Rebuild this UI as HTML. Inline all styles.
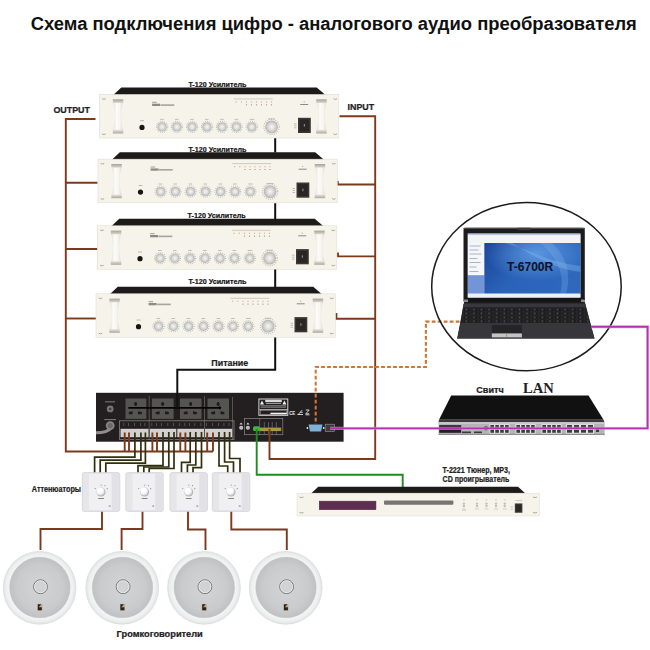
<!DOCTYPE html>
<html><head><meta charset="utf-8">
<style>
html,body{margin:0;padding:0;background:#fff;}
svg{display:block;font-family:"Liberation Sans",sans-serif;}
</style></head>
<body>
<svg width="650" height="650" viewBox="0 0 650 650">
<defs>
  <linearGradient id="hdl" x1="0" x2="1" y1="0" y2="0">
    <stop offset="0" stop-color="#e2e0d8"/><stop offset="0.35" stop-color="#fcfbf8"/><stop offset="0.7" stop-color="#f6f5f0"/><stop offset="1" stop-color="#dcdad2"/>
  </linearGradient>
  <linearGradient id="cap" x1="0" x2="0" y1="0" y2="1">
    <stop offset="0" stop-color="#a3a19a"/><stop offset="1" stop-color="#d9d7d0"/>
  </linearGradient>
  <linearGradient id="cap2" x1="0" x2="0" y1="0" y2="1">
    <stop offset="0" stop-color="#e6e4de"/><stop offset="1" stop-color="#a9a7a0"/>
  </linearGradient>
  <radialGradient id="knob" cx="0.5" cy="0.5" r="0.5">
    <stop offset="0" stop-color="#f6f6f4"/><stop offset="0.5" stop-color="#dcdcda"/><stop offset="0.85" stop-color="#c0c0be"/><stop offset="1" stop-color="#b2b2b0"/>
  </radialGradient>
  <radialGradient id="grille" cx="0.5" cy="0.5" r="0.5">
    <stop offset="0" stop-color="#d2d4d5"/><stop offset="0.75" stop-color="#c9cbcc"/><stop offset="1" stop-color="#bfc1c2"/>
  </radialGradient>
  <radialGradient id="spk" cx="0.5" cy="0.5" r="0.5">
    <stop offset="0.8" stop-color="#f6f7f7"/><stop offset="0.92" stop-color="#eeefef"/><stop offset="1" stop-color="#e2e3e3"/>
  </radialGradient>
  <linearGradient id="scr" x1="0" x2="1" y1="0" y2="0.5">
    <stop offset="0" stop-color="#1b4396"/><stop offset="0.5" stop-color="#2a62b8"/><stop offset="1" stop-color="#2d68bd"/>
  </linearGradient>

  <!-- Amplifier T-120, origin = panel top-left -->
  <g id="hnd">
    <path d="M0.3,3.2 C2.6,11 2.6,23 0.3,30.8 H10.2 C7.9,23 7.9,11 10.2,3.2 Z" fill="url(#hdl)"/>
    <rect x="0" y="0" width="10.5" height="3.6" fill="url(#cap)"/>
    <rect x="0" y="30.6" width="10.5" height="3.6" fill="url(#cap2)"/>
  </g>
  <g id="knb">
    <circle r="5.6" fill="none" stroke="#b4b1a8" stroke-width="1.1" stroke-dasharray="0.7,1.3"/>
    <circle r="4.7" fill="url(#knob)"/>
  </g>
  <g id="amp">
    <polygon points="13.8,0.5 21.8,-7 217.2,-7 226,0.5" fill="#1d1a1a"/>
    <rect x="0" y="0" width="239.3" height="43.5" fill="#f6f4ea" stroke="#e2ded0" stroke-width="0.6"/>
    <!-- rack ear marks -->
    <path d="M2.6,4.2 q1.8,1.4 3.6,0 M2.6,39.4 q1.8,1.4 3.6,0 M234,4.2 q1.8,1.4 3.6,0 M234,39.4 q1.8,1.4 3.6,0" stroke="#8a877f" stroke-width="0.7" fill="none"/>
    <use href="#hnd" x="13.3" y="4.8"/>
    <use href="#hnd" x="216.7" y="4.8"/>
    <!-- logo -->
    <rect x="52.6" y="7.3" width="4.5" height="1.1" fill="#a8a49a"/>
    <rect x="52.6" y="9.2" width="8" height="2.3" fill="#8f8b82"/>
    <rect x="61" y="9.8" width="13.8" height="1.6" fill="#a8a49a"/>
    <!-- LED labels and LEDs -->
    <rect x="134.3" y="4" width="39" height="0.9" fill="#c9c5ba"/>
    <g fill="#e9b08a">
      <circle cx="136.6" cy="7.5" r="0.7"/><circle cx="141.8" cy="7.5" r="0.7"/><circle cx="147" cy="7.5" r="0.7"/><circle cx="152" cy="7.5" r="0.7"/><circle cx="157" cy="7.5" r="0.7"/><circle cx="162" cy="7.5" r="0.7"/><circle cx="167" cy="7.5" r="0.7"/><circle cx="172" cy="7.5" r="0.7"/>
    </g>
    <g fill="#8a867c">
      <circle cx="147" cy="10.3" r="0.6"/><circle cx="152" cy="10.3" r="0.6"/><circle cx="157" cy="10.3" r="0.6"/><circle cx="162" cy="10.3" r="0.6"/><circle cx="167" cy="10.3" r="0.6"/><circle cx="172" cy="10.3" r="0.6"/>
    </g>
    <rect x="200.7" y="9.5" width="8" height="1" fill="#8d897f"/>
    <circle cx="204.7" cy="7.3" r="0.6" fill="#a09c92"/>
    <!-- jack -->
    <rect x="40.5" y="25.8" width="4" height="0.9" fill="#b5b1a6"/>
    <circle cx="42.5" cy="32.9" r="2.6" fill="#1a1414"/>
    <!-- knob labels -->
    <g fill="#b5b1a6">
      <rect x="60.6" y="24.4" width="3.6" height="0.8"/>
      <rect x="75.4" y="24.4" width="3.6" height="0.8"/>
      <rect x="90.6" y="24.4" width="3.6" height="0.8"/>
      <rect x="105.5" y="24.4" width="3.6" height="0.8"/>
      <rect x="120.6" y="24.4" width="3.6" height="0.8"/>
      <rect x="135" y="24.4" width="3.6" height="0.8"/>
      <rect x="150.2" y="24.4" width="4.6" height="0.8"/>
      <rect x="168.5" y="24" width="7" height="0.8"/>
    </g>
    <!-- knobs -->
    <use href="#knb" x="62.6" y="32.4"/>
    <use href="#knb" x="77.4" y="32.4"/>
    <use href="#knb" x="92.6" y="32.4"/>
    <use href="#knb" x="107.5" y="32.4"/>
    <use href="#knb" x="122.5" y="32.4"/>
    <use href="#knb" x="137" y="32.4"/>
    <use href="#knb" x="152.3" y="32.4"/>
    <circle cx="172.1" cy="32.4" r="7.6" fill="none" stroke="#b4b1a8" stroke-width="1.2" stroke-dasharray="0.8,1.4"/>
    <circle cx="172.1" cy="32.4" r="6.4" fill="url(#knob)"/>
    <!-- power switch -->
    <rect x="198.5" y="23.3" width="12.8" height="15.2" fill="#3b3735"/>
    <rect x="200" y="25" width="9.8" height="11.8" fill="#2a2624"/>
    <rect x="204.3" y="29.5" width="1.2" height="2.5" fill="#8a8680"/>
    <rect x="194.5" y="29" width="2.5" height="0.7" fill="#a9a59b"/>
    <rect x="194.5" y="31" width="2.5" height="0.7" fill="#a9a59b"/>
    <rect x="194.5" y="33" width="2.5" height="0.7" fill="#a9a59b"/>
  </g>
  <radialGradient id="attk" cx="0.4" cy="0.35" r="0.65">
    <stop offset="0" stop-color="#ffffff"/><stop offset="0.6" stop-color="#fafafa"/><stop offset="1" stop-color="#d8d8dc"/>
  </radialGradient>
  <radialGradient id="scrhl" cx="0.55" cy="0.2" r="0.55">
    <stop offset="0" stop-color="#6aa6ec" stop-opacity="0.75"/><stop offset="1" stop-color="#6aa6ec" stop-opacity="0"/>
  </radialGradient>
  <pattern id="keys" x="463" y="307.8" width="7.6" height="3.9" patternUnits="userSpaceOnUse">
    <rect x="0" y="0" width="7.6" height="3.9" fill="#29292c"/>
    <rect x="0.5" y="0.4" width="6.4" height="3" fill="#1b1b1d"/>
    <rect x="2.5" y="1.4" width="1.6" height="0.8" fill="#8a8a90"/>
  </pattern>
</defs>

<!-- Title -->
<text x="30.8" y="29.9" font-size="18" font-weight="bold" fill="#111" textLength="606" lengthAdjust="spacingAndGlyphs">Схема подключения цифро - аналогового аудио преобразователя</text>

<!-- OUTPUT / INPUT labels -->
<text x="53.4" y="113.3" font-size="9.4" font-weight="bold" fill="#222" stroke="#222" stroke-width="0.22" textLength="36.6" lengthAdjust="spacingAndGlyphs">OUTPUT</text>
<text x="347.6" y="110.1" font-size="8.8" font-weight="bold" fill="#222" stroke="#222" stroke-width="0.22" textLength="26.6" lengthAdjust="spacingAndGlyphs">INPUT</text>

<!-- Main device -->
<g>
  <rect x="96" y="392.8" width="247.6" height="48.9" fill="#231f20"/>
  <rect x="105" y="401.4" width="10" height="0.9" fill="#8a8888"/>
  <circle cx="110.2" cy="408.9" r="3.4" fill="#747272"/><circle cx="110.2" cy="408.9" r="1.2" fill="#3a3838"/>
  <rect x="104.3" y="419.2" width="11.7" height="0.9" fill="#8a8888"/>
  <path d="M96,432.8 C103,432.8 108,432 111,428" stroke="#8e8c8c" stroke-width="3" fill="none"/>
  <circle cx="110.2" cy="425.6" r="4.4" fill="#868484"/><circle cx="110.2" cy="425.6" r="2.6" fill="#6a6868"/>
  <!-- outlets -->
  <g fill="#565353">
    <rect x="125.5" y="398.5" width="20.8" height="20.4"/>
    <rect x="151.9" y="398.5" width="21.7" height="20.4"/>
    <rect x="180" y="398.5" width="21.5" height="20.4"/>
    <rect x="207.5" y="398.5" width="21.5" height="20.4"/>
  </g>
  <g fill="#1e1a1a">
    <ellipse cx="135.6" cy="404" rx="1.5" ry="2"/><path d="M128.8,412 l3.8,-0.8 v3 h-3.8 z M138,411.2 l3.8,0.8 v2.2 h-3.8 z"/>
    <ellipse cx="162.6" cy="404" rx="1.5" ry="2"/><path d="M155.8,412 l3.8,-0.8 v3 h-3.8 z M165,411.2 l3.8,0.8 v2.2 h-3.8 z"/>
    <ellipse cx="190.6" cy="404" rx="1.5" ry="2"/><path d="M183.8,412 l3.8,-0.8 v3 h-3.8 z M193,411.2 l3.8,0.8 v2.2 h-3.8 z"/>
    <ellipse cx="218.1" cy="404" rx="1.5" ry="2"/><path d="M211.3,412 l3.8,-0.8 v3 h-3.8 z M220.5,411.2 l3.8,0.8 v2.2 h-3.8 z"/>
  </g>
  <g stroke="#7a7676" stroke-width="0.6">
    <path d="M149.2,396 V440 M204.5,396 V440 M232.5,397 V440"/>
  </g>
  <!-- power line inside -->
  <path d="M128.3,407.8 H221" stroke="#050505" stroke-width="1.8"/>
  <path d="M219,405.8 l2.5,2 l-2.5,2" fill="#050505"/>
  <!-- terminal strip -->
  <rect x="119.4" y="420.8" width="114.6" height="18.6" fill="none" stroke="#86817f" stroke-width="0.8"/>
  <g fill="#d2d0d0">
    <rect x="120.5" y="428.8" width="28" height="8.4"/>
    <rect x="149.8" y="428.8" width="26.5" height="8.4"/>
    <rect x="177.3" y="428.8" width="26.7" height="8.4"/>
    <rect x="205" y="428.8" width="27.2" height="8.4"/>
  </g>
  <g fill="#6b6767">
    <rect x="123.5" y="423" width="0.7" height="3"/><rect x="128" y="423" width="0.7" height="3"/><rect x="134" y="423" width="0.7" height="3"/><rect x="140" y="423" width="0.7" height="3"/><rect x="144.5" y="423" width="0.7" height="3"/>
    <rect x="151.5" y="423" width="0.7" height="3"/><rect x="156" y="423" width="0.7" height="3"/><rect x="161" y="423" width="0.7" height="3"/><rect x="167.5" y="423" width="0.7" height="3"/><rect x="173" y="423" width="0.7" height="3"/>
    <rect x="179" y="423" width="0.7" height="3"/><rect x="184.5" y="423" width="0.7" height="3"/><rect x="189" y="423" width="0.7" height="3"/><rect x="194.5" y="423" width="0.7" height="3"/><rect x="200.5" y="423" width="0.7" height="3"/>
    <rect x="206" y="423" width="0.7" height="3"/><rect x="212" y="423" width="0.7" height="3"/><rect x="218" y="423" width="0.7" height="3"/><rect x="223.6" y="423" width="0.7" height="3"/><rect x="228.6" y="423" width="0.7" height="3"/>
  </g>
  <!-- right section -->
  <path d="M239.5,424.5 l1.6,-2 l1.6,2 z M246.3,424.5 l1.6,-2 l1.6,2 z" fill="#d8d8d8"/>
  <circle cx="241.2" cy="427.8" r="2" fill="#cfcdcd"/>
  <circle cx="247.9" cy="427.8" r="2" fill="#cfcdcd"/>
  <path d="M240,427.8 h2.4 M247,427.8 h2" stroke="#777" stroke-width="0.5"/>
  <rect x="244.5" y="418.5" width="38.3" height="16.2" fill="none" stroke="#8a8686" stroke-width="0.7"/>
  <path d="M259.7,418.5 V434.7 M264.3,422 V434.7 M268.5,422 V434.7 M272.2,422 V434.7 M276.3,422 V434.7" stroke="#9a9696" stroke-width="0.5"/>
  <rect x="259.7" y="427.6" width="21.5" height="3.5" fill="#a8993f"/>
  <rect x="253" y="426.3" width="7" height="4.6" rx="1.5" fill="#3fb43f"/>
  <!-- label -->
  <rect x="258.9" y="399" width="28.9" height="16.3" fill="#231f20" stroke="#e8e8e8" stroke-width="0.9"/>
  <path d="M260,404.5 l2,-4 l2,4 z M282.4,404.5 l2,-4 l2,4 z" fill="#f2f2f2"/>
  <rect x="265.2" y="399.8" width="16.6" height="2.4" fill="#d8d8d8"/>
  <rect x="266" y="403" width="15" height="1" fill="#9a9a9a"/>
  <rect x="260.5" y="405.3" width="25.5" height="1.2" fill="#8a8a8a"/>
  <rect x="260.5" y="407.2" width="25.5" height="0.8" fill="#7a7a7a"/>
  <rect x="259.5" y="409.1" width="28" height="0.7" fill="#e0e0e0"/>
  <rect x="260.6" y="410.6" width="25.8" height="3.9" fill="none" stroke="#cfcfcf" stroke-width="0.4"/>
  <rect x="270.4" y="412.7" width="16.4" height="1.5" fill="#f4f4f4"/>
  <text x="289.2" y="414.6" font-size="5.6" fill="#e8e8e8" font-weight="bold" textLength="6" lengthAdjust="spacingAndGlyphs">CE</text>
  <path d="M297.5,414.5 h5.5 M298.2,414.5 l4,-4.4 M300.2,412.3 h2.5" stroke="#e0e0e0" stroke-width="0.9" fill="none"/>
  <path d="M305.8,410 h3.4 l-3.4,3.8 h3.4 M305.5,414.8 h4" stroke="#e0e0e0" stroke-width="0.9" fill="none"/>
  <!-- DB9 -->
  <path d="M308.6,424.5 h13.9 l-1.4,6.9 h-11.1 z" fill="#7fb0d6"/>
  <circle cx="307.4" cy="428" r="0.9" fill="#eee"/><circle cx="323.7" cy="428" r="0.9" fill="#eee"/>
  <!-- RJ45 -->
  <rect x="325.2" y="424.2" width="9.2" height="7.2" fill="#3e3a3a" stroke="#9a9898" stroke-width="0.6"/>
</g>

<!-- brown wires (output side) -->
<g stroke="#7c3a1c" stroke-width="1.9" fill="none">
  <path d="M95.5,119 H65.8 V451.5 H213"/>
  <path d="M65.8,182.8 H97.5"/>
  <path d="M65.8,249 H97.5"/>
  <path d="M65.8,318.5 H96"/>
  <!-- input side -->
  <path d="M339.5,116.2 H375.2 V459 H269.5 V429"/>
  <path d="M337.8,181 V184.5 H375.2"/>
  <path d="M338,252.5 V256.4 H375.2"/>
  <path d="M336.4,313 V318.8 H375.2"/>
  <!-- terminal brown wires -->
  <path d="M124.7,432.5 V451.5 M129,432.5 V451.5 M152.4,432.5 V451.5 M157,432.5 V451.5 M180.3,432.5 V451.5 M185.4,432.5 V451.5 M207.2,432.5 V451.5 M213,432.5 V451.5"/>
  <!-- attenuator to speaker -->
  <path d="M102,511 V529 H40.5 V550"/>
  <path d="M142.5,511 V529 H121.6 V550"/>
  <path d="M188,511 V529.5 H205.5 V550"/>
  <path d="M231.3,511 V529.5 H286.8 V550"/>
</g>

<!-- Amplifiers -->
<use href="#amp" x="99.5" y="94.5"/>
<use href="#amp" x="98" y="159.2"/>
<use href="#amp" x="97.5" y="225.8"/>
<use href="#amp" x="96" y="293.8"/>

<text x="188.4" y="86.7" font-size="6.9" font-weight="bold" fill="#151515" stroke="#151515" stroke-width="0.2" textLength="58" lengthAdjust="spacingAndGlyphs">T-120 Усилитель</text>
<text x="188.4" y="151.7" font-size="6.9" font-weight="bold" fill="#151515" stroke="#151515" stroke-width="0.2" textLength="58" lengthAdjust="spacingAndGlyphs">T-120 Усилитель</text>
<text x="187.6" y="217.9" font-size="6.9" font-weight="bold" fill="#151515" stroke="#151515" stroke-width="0.2" textLength="58" lengthAdjust="spacingAndGlyphs">T-120 Усилитель</text>
<text x="188.4" y="284.2" font-size="6.9" font-weight="bold" fill="#151515" stroke="#151515" stroke-width="0.2" textLength="58" lengthAdjust="spacingAndGlyphs">T-120 Усилитель</text>
<!-- black power line -->
<g stroke="#111" stroke-width="2" fill="none">
  <path d="M275.2,138.2 V152.5 M275.2,203.2 V219 M275.2,269.5 V287"/>
  <path d="M275.2,337.5 V369.8 H177.3 V408"/>
</g>
<text x="211.3" y="366.3" font-size="9.2" font-weight="bold" fill="#222" stroke="#222" stroke-width="0.22" textLength="37" lengthAdjust="spacingAndGlyphs">Питание</text>

<!-- orange dashed -->
<path d="M459.5,321.6 H425.9 V367 H315.7 V424" stroke="#cf7631" stroke-width="2.1" fill="none" stroke-dasharray="3.8,2.2"/>

<!-- terminal green wire and brown from right -->
<path d="M256.7,429 V474.8 H402.7 V487" stroke="#1f8c1f" stroke-width="1.9" fill="none"/>

<!-- olive wires terminals to attenuators -->
<g stroke="#30300f" stroke-width="1.7" fill="none">
  <path d="M134.9,432.5 V457.2 H94.6 V473"/>
  <path d="M140.9,432.5 V460.1 H100.2 V473"/>
  <path d="M145.4,432.5 V463.1 H105.8 V473"/>
  <path d="M163,432 V465.6 H138 V473"/>
  <path d="M168.8,432 V467 H143.8 V473"/>
  <path d="M174,432 V468.5 H149.2 V473"/>
  <path d="M190.2,432 V462.3 H181.5 V473"/>
  <path d="M195.8,432 V465 H187.4 V473"/>
  <path d="M201.5,432 V467.7 H193 V473"/>
  <path d="M219,432 V466 H227.7 V473"/>
  <path d="M224.6,432 V462 H233.5 V473"/>
  <path d="M229.6,432 V458.5 H240 V473"/>
</g>

<!-- Attenuators -->
<g id="att">
  <rect x="82.3" y="472.6" width="37.5" height="38.8" rx="2" fill="#e6e6e9" stroke="#d0d0d4" stroke-width="0.7"/>
  <rect x="89" y="474" width="22.8" height="36" fill="#f0f0f2"/>
  <rect x="111.8" y="474" width="6.6" height="36" fill="#e2e2e6"/>
  <circle cx="101.1" cy="492.1" r="4.5" fill="#b4b4b8"/>
  <circle cx="100.6" cy="491.5" r="3.9" fill="url(#attk)"/>
  <g fill="#8a8a8e"><circle cx="95.2" cy="488.6" r="0.55"/><circle cx="101.2" cy="485.1" r="0.55"/><circle cx="104.9" cy="485.6" r="0.55"/><circle cx="107.2" cy="488.7" r="0.6"/></g>
  <rect x="98.2" y="498" width="5.8" height="0.9" fill="#7a7a7e"/>
  <rect x="108.8" y="505.6" width="1.8" height="0.9" fill="#6a6a6e"/>
</g>
<use href="#att" x="43.5"/>
<use href="#att" x="87.6"/>
<use href="#att" x="130"/>

<text x="31.8" y="491.8" font-size="8.2" font-weight="bold" fill="#222" stroke="#222" stroke-width="0.22" textLength="49.2" lengthAdjust="spacingAndGlyphs">Аттенюаторы</text>

<!-- Speakers -->
<g id="spkr">
  <circle cx="39.6" cy="587.8" r="36.4" fill="url(#spk)" stroke="#d9dadb" stroke-width="0.7"/>
  <circle cx="39.9" cy="587.5" r="30.2" fill="url(#grille)" stroke="#bfc1c2" stroke-width="0.6"/>
  <circle cx="40.5" cy="586.7" r="6.9" fill="none" stroke="#6a6a6a" stroke-width="0.9"/>
  <circle cx="40.5" cy="586.7" r="6" fill="none" stroke="#f2f2f2" stroke-width="0.7"/>
  <rect x="37.4" y="603.9" width="4.9" height="6.8" fill="#b9ab92"/>
  <path d="M37.8,604.3 h3.5 l-2.6,2.9 h3.1 v3 h-4 z" fill="#2e2318"/>
</g>
<use href="#spkr" x="82.6"/>
<use href="#spkr" x="164.4"/>
<use href="#spkr" x="246.1"/>
<text x="116.6" y="637.1" font-size="8.6" font-weight="bold" fill="#222" stroke="#222" stroke-width="0.22" textLength="86.2" lengthAdjust="spacingAndGlyphs">Громкоговорители</text>

<!-- Tuner -->
<text x="442.6" y="473.4" font-size="8.2" font-weight="bold" fill="#222" stroke="#222" stroke-width="0.22" textLength="67.4" lengthAdjust="spacingAndGlyphs">T-2221 Тюнер, MP3,</text>
<text x="442.6" y="481.6" font-size="8.2" font-weight="bold" fill="#222" stroke="#222" stroke-width="0.22" textLength="66.8" lengthAdjust="spacingAndGlyphs">CD проигрыватель</text>
<polygon points="311,493.4 318.3,486.8 518,486.8 525.5,493.4" fill="#1d1a1a"/>
<rect x="297" y="493.2" width="242.5" height="22.8" fill="#f6f4ea" stroke="#e4e0d2" stroke-width="0.6"/>
<path d="M299.5,497 q2,1.2 4,0 M299.5,512.4 q2,1.2 4,0 M533,497 q2,1.2 4,0 M533,512.4 q2,1.2 4,0" stroke="#8a877f" stroke-width="0.7" fill="none"/>
<rect x="319.3" y="501.2" width="56.6" height="8.4" fill="#5f2c52" stroke="#4a2838" stroke-width="0.6"/>
<rect x="384" y="500.6" width="69.4" height="4.2" fill="#777572" rx="1"/>
<g fill="#c4c0b5">
  <rect x="462.9" y="499.6" width="2" height="0.7"/><circle cx="463.9" cy="503.6" r="1.2"/><circle cx="463.9" cy="506" r="1.2"/><rect x="461.9" y="508.6" width="4" height="0.7"/>
  <rect x="476" y="499.6" width="2" height="0.7"/><circle cx="477" cy="503.6" r="1.2"/><circle cx="477" cy="506" r="1.2"/><rect x="475" y="508.6" width="4" height="0.7"/>
  <rect x="485.5" y="499.6" width="2" height="0.7"/><circle cx="486.5" cy="503.6" r="1.2"/><circle cx="486.5" cy="506" r="1.2"/><rect x="484.5" y="508.6" width="4" height="0.7"/>
  <rect x="495" y="499.6" width="2" height="0.7"/><circle cx="496" cy="503.6" r="1.2"/><circle cx="496" cy="506" r="1.2"/><rect x="494" y="508.6" width="4" height="0.7"/>
  <rect x="503.8" y="499.6" width="2" height="0.7"/><circle cx="504.8" cy="503.6" r="1.2"/><circle cx="504.8" cy="506" r="1.2"/><rect x="502.8" y="508.6" width="4" height="0.7"/>
  <rect x="462" y="510.2" width="4" height="0.7"/><rect x="515.5" y="500.2" width="6.5" height="0.8"/><rect x="510.5" y="506" width="2.5" height="0.6"/><rect x="510.5" y="507.6" width="2.5" height="0.6"/><rect x="510.5" y="509.2" width="2.5" height="0.6"/>
</g>
<rect x="514.8" y="503.4" width="7.6" height="9.4" fill="#4a4644"/><rect x="515.7" y="504.3" width="5.8" height="7.6" fill="#2b2727"/>

<!-- Switch -->
<text x="476.3" y="393" font-size="8.6" font-weight="bold" fill="#222" stroke="#222" stroke-width="0.22" textLength="27.4" lengthAdjust="spacingAndGlyphs">Свитч</text>
<text x="523" y="393" font-size="15.5" font-weight="bold" font-family="Liberation Serif, serif" fill="#222" textLength="30.8" lengthAdjust="spacingAndGlyphs">LAN</text>
<polygon points="451.2,395.4 588.5,395.4 603.5,419.8 439,419.8" fill="#111112"/>
<polygon points="439,419.8 603.5,419.8 604.6,422.4 438.5,422.4" fill="#3a3a3c"/>
<rect x="438.5" y="422.4" width="166.1" height="12.5" fill="#b4b4b6"/>
<rect x="438.5" y="422.4" width="166.1" height="1.2" fill="#d6d6d8"/>
<rect x="438.5" y="433.8" width="166.1" height="1.1" fill="#8a8a8c"/>
<rect x="439.2" y="425.2" width="22" height="7.6" fill="#2a1a2a"/>
<rect x="462" y="431.5" width="9" height="1.6" fill="#3a3a3a"/>
<rect x="474" y="431.5" width="8" height="1.6" fill="#3a3a3a"/>
<circle cx="486" cy="428.3" r="2.2" fill="#555"/>
<g fill="#e4e4e6">
  <rect x="489.4" y="424.2" width="20.3" height="9.4"/><rect x="515.4" y="424.2" width="20.3" height="9.4"/><rect x="541.4" y="424.2" width="20.3" height="9.4"/><rect x="566" y="424.2" width="28" height="9.4"/>
</g>
<g fill="#3c3c3e">
  <rect x="490.4" y="425" width="3.6" height="3.2"/><rect x="495.3" y="425" width="3.6" height="3.2"/><rect x="500.2" y="425" width="3.6" height="3.2"/><rect x="505.1" y="425" width="3.6" height="3.2"/>
  <rect x="490.4" y="429.6" width="3.6" height="3.2"/><rect x="495.3" y="429.6" width="3.6" height="3.2"/><rect x="500.2" y="429.6" width="3.6" height="3.2"/><rect x="505.1" y="429.6" width="3.6" height="3.2"/>
  <rect x="516.4" y="425" width="3.6" height="3.2"/><rect x="521.3" y="425" width="3.6" height="3.2"/><rect x="526.2" y="425" width="3.6" height="3.2"/><rect x="531.1" y="425" width="3.6" height="3.2"/>
  <rect x="516.4" y="429.6" width="3.6" height="3.2"/><rect x="521.3" y="429.6" width="3.6" height="3.2"/><rect x="526.2" y="429.6" width="3.6" height="3.2"/><rect x="531.1" y="429.6" width="3.6" height="3.2"/>
  <rect x="542.4" y="425" width="3.6" height="3.2"/><rect x="547.3" y="425" width="3.6" height="3.2"/><rect x="552.2" y="425" width="3.6" height="3.2"/><rect x="557.1" y="425" width="3.6" height="3.2"/>
  <rect x="542.4" y="429.6" width="3.6" height="3.2"/><rect x="547.3" y="429.6" width="3.6" height="3.2"/><rect x="552.2" y="429.6" width="3.6" height="3.2"/><rect x="557.1" y="429.6" width="3.6" height="3.2"/>
  <rect x="567" y="425" width="5" height="3"/><rect x="574" y="425" width="5" height="3"/><rect x="581" y="425" width="5" height="3"/><rect x="588" y="425" width="5" height="3"/>
  <rect x="567" y="429.7" width="5" height="3"/><rect x="574" y="429.7" width="5" height="3"/><rect x="581" y="429.7" width="5" height="3"/><rect x="588" y="429.7" width="5" height="3"/>
  <rect x="596" y="428" width="3" height="4"/>
</g>

<!-- Laptop + circle -->
<ellipse cx="526.45" cy="286.6" rx="94.75" ry="84.2" fill="none" stroke="#1c1c1c" stroke-width="1.5"/>
<rect x="463.5" y="227.8" width="121.3" height="75" rx="2" fill="#1c1c1f"/>
<rect x="463.5" y="227.8" width="121.3" height="1.2" fill="#4a4a4e"/>
<rect x="517.5" y="227.8" width="13.3" height="2.4" fill="#3a3a3e"/>
<rect x="467.8" y="233.6" width="112.6" height="64" fill="#e9edf3"/>
<rect x="467.8" y="233.6" width="112.6" height="1.6" fill="#b9c9e3"/>
<rect x="467.8" y="235.2" width="112.6" height="7.8" fill="#f3f4f6"/>
<rect x="484.2" y="243" width="96.2" height="50.7" fill="url(#scr)"/>
<rect x="484.2" y="243" width="96.2" height="50.7" fill="url(#scrhl)"/>
<path d="M505,243 C530,250 548,262 580.4,266 V272 C552,268 534,256 512,243 Z" fill="#8cbcf0" opacity="0.35"/>
<path d="M540,243 C556,256 566,274 560,293.7 H566 C572,274 566,256 552,243 Z" fill="#8cbcf0" opacity="0.25"/>
<rect x="467.8" y="243" width="16.4" height="32.2" fill="#f4f6fa"/>
<rect x="467.8" y="275.2" width="16.4" height="18.5" fill="#7394d6"/>
<g fill="#a9b4c6">
  <rect x="469.5" y="245.5" width="11" height="1"/><rect x="469.5" y="249.5" width="9" height="1"/><rect x="469.5" y="253.5" width="12" height="1"/><rect x="469.5" y="258" width="8" height="1"/><rect x="469.5" y="262" width="11" height="1"/><rect x="469.5" y="266.5" width="7" height="1"/><rect x="469.5" y="271" width="9" height="1"/>
</g>
<rect x="467.8" y="293.7" width="112.6" height="3.7" fill="#edf0f4"/>
<text x="507.1" y="271" font-size="12" font-weight="bold" fill="#0e1220" textLength="46.1" lengthAdjust="spacingAndGlyphs">T-6700R</text>
<!-- base -->
<polygon points="464,302.5 585,302.5 594.5,338.5 457.2,338.5" fill="#2c2c30"/>
<rect x="464" y="298.3" width="121" height="4.5" fill="#151517"/>
<rect x="464" y="299.5" width="4" height="2.5" fill="#8a8a8e"/>
<rect x="581" y="299.5" width="4" height="2.5" fill="#8a8a8e"/>
<polygon points="463.5,304 585.5,304 586,307.3 463,307.3" fill="#38383c"/>
<polygon points="463,307.3 586,307.3 590,322.9 460.5,322.9" fill="url(#keys)"/>
<polygon points="460.5,322.9 590,322.9 594.5,338.5 457.2,338.5" fill="#37373b"/>
<rect x="491.8" y="325.1" width="30.1" height="12.3" fill="#252528"/>
<rect x="491.8" y="333.4" width="30.1" height="4" fill="#c4c4c6"/>
<rect x="506.5" y="333.4" width="0.6" height="4" fill="#777"/>

<!-- magenta -->
<path d="M330,428.4 H647.6 V326.8 H591" stroke="#e9a6e9" stroke-width="3.2" fill="none" opacity="0.6"/>
<path d="M330,428.4 H647.6 V326.8 H591" stroke="#b033b0" stroke-width="1.9" fill="none"/>
</svg>
</body></html>
